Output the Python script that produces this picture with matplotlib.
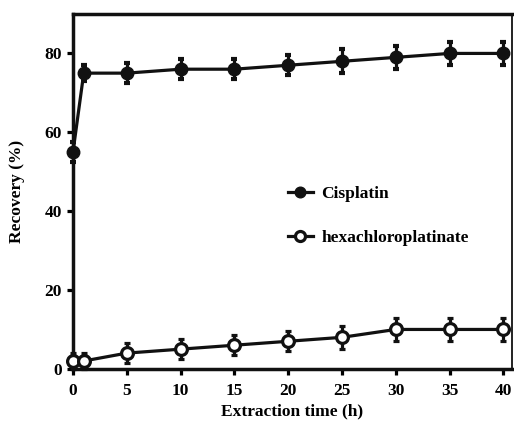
import matplotlib
matplotlib.use("Agg")
import matplotlib.pyplot as plt

plt.rcParams['font.family'] = ['Liberation Serif', 'DejaVu Serif']
plt.rcParams['font.weight'] = 'bold'

time_h = [0, 1, 5, 10, 15, 20, 25, 30, 35, 40]
cisplatin = [55, 75, 75, 76, 76, 77, 78, 79, 80, 80]
cisplatin_err = [2.5, 2, 2.5, 2.5, 2.5, 2.5, 3, 3, 3, 3]
hexa = [2, 2, 4, 5, 6, 7, 8, 10, 10, 10]
hexa_err = [2, 2, 2.5, 2.5, 2.5, 2.5, 3, 3, 3, 3]

fig = plt.figure(figsize=(5.14, 4.24), dpi=100)
ax = fig.add_axes([0.142, 0.130, 0.854, 0.837])

ax.errorbar(time_h, cisplatin, yerr=cisplatin_err, color='#111111', marker='o',
            markersize=9, lw=2.3, elinewidth=2.3, capsize=2.5, capthick=3,
            mfc='#111111', mec='#111111', label='Cisplatin', clip_on=False, zorder=3)
ax.errorbar(time_h, hexa, yerr=hexa_err, color='#111111', marker='o',
            markersize=8.5, lw=2.3, elinewidth=2.3, capsize=2.5, capthick=3,
            mfc='white', mec='#111111', mew=2.3, label='hexachloroplatinate',
            clip_on=False, zorder=3)

ax.set_xlim(0, 40.8)
ax.set_ylim(0, 90)
ax.set_xticks([0, 5, 10, 15, 20, 25, 30, 35, 40])
ax.set_yticks([0, 20, 40, 60, 80])
ax.tick_params(axis='both', labelsize=12.5, width=2.3, length=4, direction='out')
ax.tick_params(axis='x', pad=6)
ax.tick_params(axis='y', pad=4)
ax.tick_params(top=False, right=False)
for side in ['left', 'bottom', 'top']:
    ax.spines[side].set_linewidth(2.5)
ax.spines['right'].set_linewidth(1.3)
for s in ax.spines.values():
    s.set_color('#111111')

ax.set_xlabel('Extraction time (h)', fontsize=12.5, fontweight='bold', labelpad=3)
ax.set_ylabel('Recovery (%)', fontsize=12.5, fontweight='bold', labelpad=14)

h, l = ax.get_legend_handles_labels()
h = [x[0] for x in h]
ax.legend(h, l, loc='center left', bbox_to_anchor=(0.455, 0.43), frameon=False,
          fontsize=12.5, handlelength=1.4, labelspacing=1.6, handletextpad=0.5,
          markerscale=0.85)

fig.savefig('out.png', dpi=100)
